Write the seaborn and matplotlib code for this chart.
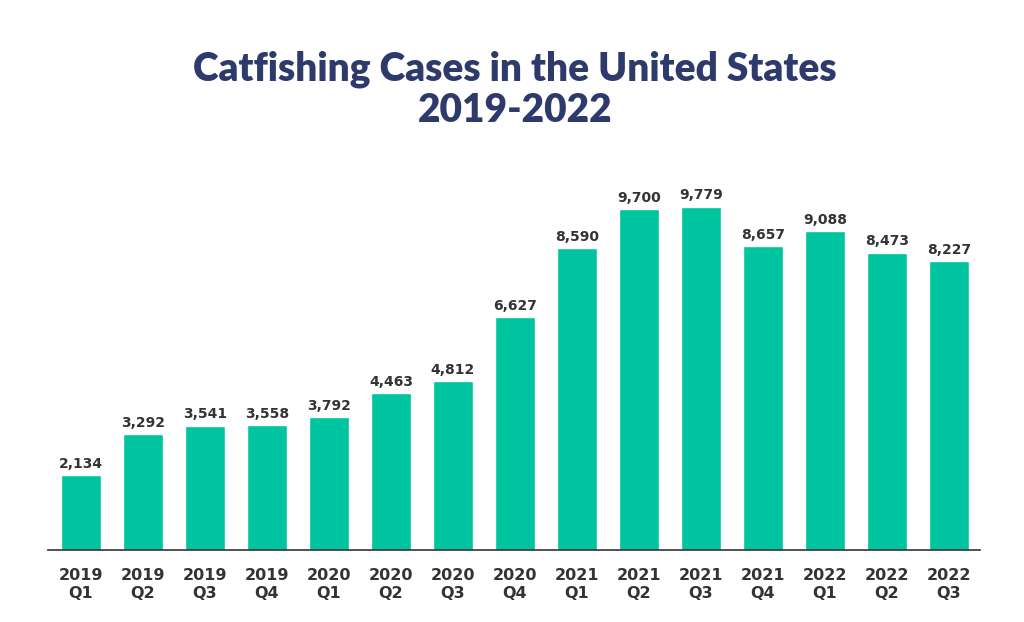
import seaborn as sns
import pandas as pd
import matplotlib.pyplot as plt

quarters = ["2019\nQ1", "2019\nQ2", "2019\nQ3", "2019\nQ4",
            "2020\nQ1", "2020\nQ2", "2020\nQ3", "2020\nQ4",
            "2021\nQ1", "2021\nQ2", "2021\nQ3", "2021\nQ4",
            "2022\nQ1", "2022\nQ2", "2022\nQ3"]
cases = [2134, 3292, 3541, 3558, 3792, 4463, 4812, 6627,
         8590, 9700, 9779, 8657, 9088, 8473, 8227]

sns.set_style("white")
plt.rcParams["font.family"] = ["DejaVu Sans"]

data = pd.DataFrame({"quarter": quarters, "cases": cases})

fig = plt.figure(figsize=(10.24, 6.22), dpi=100)
ax = fig.add_axes([0.047, 0.1158, 0.91, 0.627])
sns.barplot(data=data, x="quarter", y="cases", color="#00C4A0",
            saturation=1, width=0.65, ax=ax)

for i, v in enumerate(cases):
    ax.text(i, v + 120, f"{v:,}", ha="center", va="bottom",
            fontsize=10, fontweight="bold", color="#333333")

ax.set_xlim(-0.53, 14.5)
ax.set_ylim(0, 11110)
ax.set_xlabel("")
ax.set_ylabel("")
ax.set_yticks([])
sns.despine(ax=ax, left=True)
ax.spines["bottom"].set_color("#333333")
ax.spines["bottom"].set_linewidth(1.2)
ax.tick_params(axis="x", direction="out", length=9, width=1.2,
               color="#333333", labelsize=11.5, labelcolor="#333333", pad=4)
for lbl in ax.get_xticklabels():
    lbl.set_fontweight("bold")
    lbl.set_linespacing(1.25)

fig.text(0.503, 0.793, "Catfishing Cases in the United States\n2019-2022",
         ha="center", va="bottom", fontsize=28, fontweight="heavy",
         color="#2D3A6B", linespacing=1.12, family=["Lato", "DejaVu Sans"])

fig.savefig("out.png", dpi=100)
